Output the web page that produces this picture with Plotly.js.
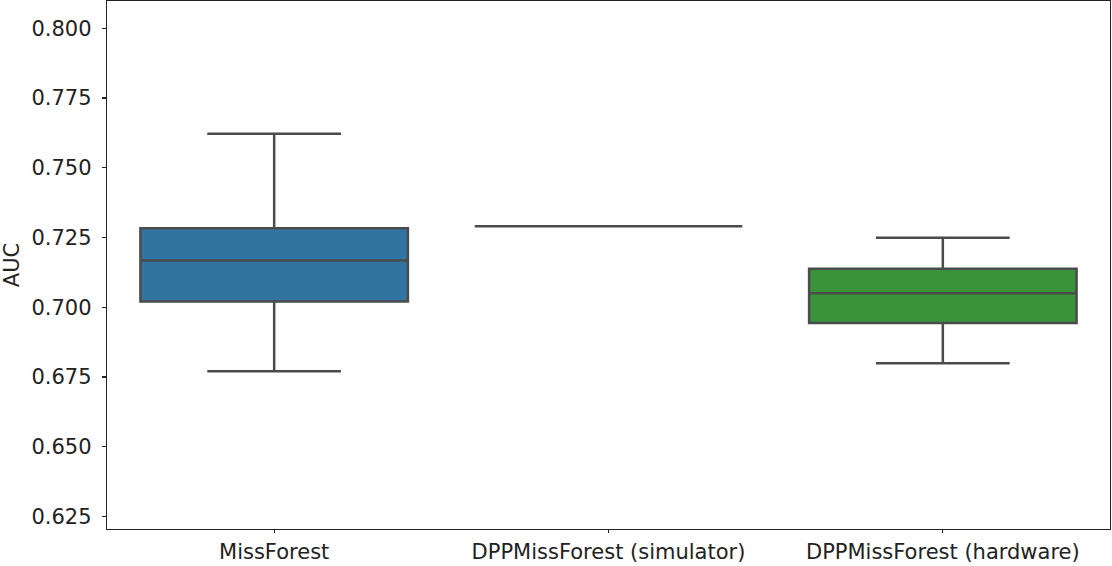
<!DOCTYPE html>
<html>
<head>
<meta charset="utf-8">
<script src="https://cdn.plot.ly/plotly-3.0.1.min.js"></script>
<style>html,body{margin:0;padding:0;background:#fff;}#chart{width:1112px;height:566px;}</style>
</head>
<body>
<div id="chart"></div>
<script>
const categories = ["MissForest", "DPPMissForest (simulator)", "DPPMissForest (hardware)"];
const lowerWhisker = [0.6771, 0.7290, 0.6799];
const q1Values = [0.7021, 0.7290, 0.6944];
const medianValues = [0.7168, 0.7290, 0.7050];
const q3Values = [0.7283, 0.7290, 0.7138];
const upperWhisker = [0.7622, 0.7290, 0.7249];
const boxColors = ["#3274a1", "#e1812c", "#3a923a"];
const yTickVals = [0.625, 0.650, 0.675, 0.700, 0.725, 0.750, 0.775, 0.800];
const yTickText = ["0.625", "0.650", "0.675", "0.700", "0.725", "0.750", "0.775", "0.800"];

const lineColor = "#4b4b4b";
const traces = categories.map((c, i) => ({
  type: "box",
  x: [c],
  q1: [q1Values[i]],
  median: [medianValues[i]],
  q3: [q3Values[i]],
  lowerfence: [lowerWhisker[i]],
  upperfence: [upperWhisker[i]],
  fillcolor: boxColors[i],
  line: {color: lineColor, width: 2.5},
  whiskerwidth: 0.5,
  width: 0.8,
  boxpoints: false,
  hoverinfo: "skip",
  showlegend: false
}));

const font = {family: "DejaVu Sans, sans-serif", size: 21, color: "#222"};
const xfont = {family: "DejaVu Sans, sans-serif", size: 21, color: "#222"};
const layout = {
  width: 1112, height: 566,
  margin: {l: 107, r: 2, t: 1, b: 37, pad: 0},
  paper_bgcolor: "#fff", plot_bgcolor: "#fff",
  font: font,
  showlegend: false,
  xaxis: {
    type: "category",
    categoryorder: "array", categoryarray: categories,
    range: [-0.5, 2.5],
    showgrid: false, zeroline: false,
    showline: true, mirror: true, linecolor: "#222", linewidth: 1.3,
    ticks: "outside", ticklen: 3, tickwidth: 1.2, tickcolor: "#222",
    tickfont: xfont
  },
  yaxis: {
    range: [0.6205, 0.8098],
    tickvals: yTickVals, ticktext: yTickText,
    showgrid: false, zeroline: false,
    showline: true, mirror: true, linecolor: "#222", linewidth: 1.3,
    ticks: "outside", ticklen: 4, tickwidth: 1.2, tickcolor: "#222",
    ticklabelstandoff: 6,
    tickfont: font,
    title: {text: "AUC", font: font, standoff: 10}
  }
};
Plotly.newPlot("chart", traces, layout, {displayModeBar: false, staticPlot: true});
</script>
</body>
</html>
